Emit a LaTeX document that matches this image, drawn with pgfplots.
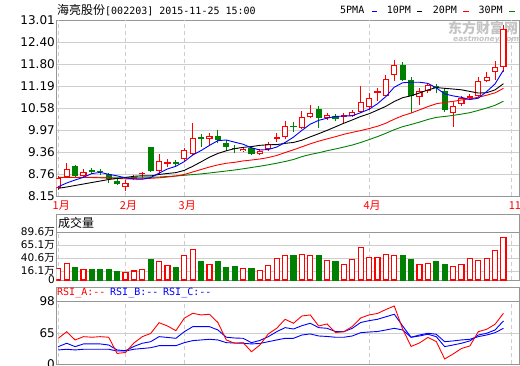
\documentclass[border=0pt]{standalone}
\usepackage{fontspec}
\setmainfont{DejaVu Sans}
\newfontfamily\cjk{Noto Sans CJK SC}
\newfontfamily\mono{DejaVu Sans Mono}
\usepackage{pgfplots}
\pgfplotsset{compat=1.18}
\usepackage{pgfplotstable}
\definecolor{kred}{RGB}{255,0,0}
\definecolor{kgreen}{RGB}{0,128,0}
\definecolor{kblue}{RGB}{0,0,255}
\definecolor{bord}{RGB}{150,150,150}
\definecolor{gridc}{RGB}{206,206,206}
\definecolor{wm}{RGB}{196,196,196}

% rising candles (red, hollow): open, high, low, close
\pgfplotstableread{
i O H L C
0 8.380 8.704 8.316 8.640
1 8.668 9.072 8.648 8.889
3 8.712 8.889 8.684 8.806
8 8.408 8.593 8.288 8.518
9 8.621 8.723 8.593 8.668
10 8.751 8.815 8.612 8.779
12 8.851 9.313 8.759 9.111
13 9.044 9.166 8.961 9.091
15 9.183 9.487 9.127 9.424
16 9.313 10.163 9.299 9.748
18 9.720 9.886 9.562 9.803
22 9.396 9.515 9.377 9.460
24 9.305 9.443 9.277 9.396
25 9.451 9.637 9.396 9.582
26 9.737 9.886 9.654 9.784
27 9.792 10.227 9.720 10.088
29 10.033 10.504 9.997 10.329
30 10.346 10.670 10.302 10.440
32 10.318 10.440 10.254 10.385
34 10.346 10.440 10.163 10.385
35 10.374 10.531 10.338 10.484
36 10.484 11.196 10.440 10.745
37 10.606 10.994 10.531 10.855
38 11.010 11.132 10.789 11.057
39 10.927 11.500 10.919 11.381
40 11.500 11.916 11.343 11.777
43 10.900 11.132 10.670 11.057
44 11.066 11.287 10.994 11.224
47 10.440 10.761 10.069 10.650
48 10.697 10.919 10.642 10.855
49 10.864 10.974 10.808 10.919
50 10.919 11.453 10.891 11.334
51 11.343 11.597 11.307 11.453
52 11.592 11.888 11.362 11.714
53 11.730 12.885 11.592 12.766
}\upc

% falling candles (green, filled): open, high, low, close
\pgfplotstableread{
i O H L C
2 8.981 9.017 8.684 8.704
4 8.870 8.917 8.751 8.815
5 8.842 8.906 8.723 8.806
6 8.751 8.779 8.502 8.621
7 8.574 8.629 8.446 8.491
11 9.507 9.515 8.823 8.842
14 9.091 9.147 8.961 9.044
17 9.764 9.858 9.515 9.737
19 9.811 9.969 9.609 9.701
20 9.626 9.701 9.404 9.515
21 9.460 9.562 9.332 9.443
23 9.471 9.515 9.285 9.305
28 10.088 10.199 9.930 10.052
31 10.551 10.642 10.025 10.318
33 10.374 10.421 10.235 10.290
41 11.777 11.860 11.343 11.362
42 11.362 11.453 10.457 10.927
45 11.177 11.243 11.010 11.149
46 11.066 11.132 10.484 10.531
}\dnc

\pgfplotstableread{
i ma5 ma10 ma20 ma30
0 8.408 8.363 8.662 8.668
1 8.510 8.399 8.662 8.668
2 8.593 8.441 8.662 8.668
3 8.668 8.482 8.662 8.668
4 8.771 8.524 8.662 8.668
5 8.804 8.565 8.654 8.668
6 8.750 8.607 8.648 8.668
7 8.708 8.635 8.635 8.668
8 8.650 8.662 8.626 8.668
9 8.621 8.696 8.621 8.668
10 8.615 8.710 8.626 8.668
11 8.660 8.705 8.640 8.668
12 8.784 8.746 8.654 8.676
13 8.898 8.774 8.676 8.690
14 8.973 8.797 8.704 8.704
15 9.102 8.859 8.745 8.723
16 9.284 8.972 8.815 8.743
17 9.409 9.096 8.884 8.762
18 9.551 9.225 8.953 8.787
19 9.683 9.328 9.012 8.815
20 9.701 9.402 9.056 8.842
21 9.640 9.462 9.083 8.870
22 9.584 9.497 9.121 8.903
23 9.485 9.518 9.146 8.939
24 9.424 9.553 9.175 8.975
25 9.437 9.569 9.214 9.014
26 9.505 9.573 9.272 9.058
27 9.631 9.608 9.352 9.105
28 9.780 9.633 9.429 9.161
29 9.967 9.695 9.512 9.240
30 10.139 9.788 9.595 9.300
31 10.245 9.875 9.669 9.347
32 10.305 9.968 9.732 9.403
33 10.352 10.066 9.792 9.453
34 10.364 10.165 9.859 9.505
35 10.372 10.256 9.912 9.561
36 10.458 10.352 9.962 9.632
37 10.552 10.428 10.018 9.711
38 10.705 10.529 10.081 9.795
39 10.904 10.634 10.165 9.886
40 11.163 10.768 10.278 9.986
41 11.286 10.872 10.374 10.070
42 11.301 10.926 10.447 10.130
43 11.301 11.003 10.535 10.196
44 11.269 11.087 10.626 10.269
45 11.144 11.153 10.704 10.326
46 10.978 11.132 10.742 10.352
47 10.922 11.112 10.770 10.382
48 10.882 11.091 10.810 10.418
49 10.821 11.045 10.840 10.458
50 10.858 11.001 10.884 10.519
51 11.042 11.010 10.941 10.586
52 11.255 11.089 11.007 10.661
53 11.637 11.260 11.131 10.776
}\ma

\pgfplotstableread{
i a b c
0 59.5 50.9 47.5
1 66.3 54.4 48.2
2 57.8 50.9 47.5
3 61.2 53.7 48.2
4 60.6 53.7 48.2
5 61.2 53.7 48.2
6 60.6 52.6 48.2
7 43.9 47.5 46.4
8 44.9 46.7 46.4
9 54.7 51.1 48.2
10 61.2 54.4 49.0
11 64.5 56.0 49.8
12 75.6 61.2 51.9
13 72.2 60.4 51.9
14 67.4 59.5 51.9
15 80.2 66.3 55.0
16 85.3 71.5 57.1
17 83.6 71.5 57.8
18 84.3 71.5 58.5
19 75.8 68.1 57.8
20 57.8 60.6 55.0
21 54.4 59.8 54.7
22 55.0 59.5 54.4
23 45.7 55.0 53.7
24 52.6 57.3 54.2
25 64.0 61.2 56.0
26 69.8 66.3 57.8
27 79.1 70.5 59.5
28 75.0 69.1 59.5
29 82.5 72.5 62.9
30 83.6 75.0 64.0
31 72.2 70.5 61.9
32 74.3 69.8 61.4
33 65.5 66.5 60.6
34 66.3 66.3 60.6
35 71.7 69.8 61.9
36 80.5 75.8 65.3
37 83.6 77.7 66.0
38 85.1 79.1 66.5
39 89.2 81.7 68.1
40 92.8 84.3 69.8
41 69.1 72.2 68.1
42 51.1 60.6 60.6
43 54.7 61.9 62.9
44 60.4 63.7 64.7
45 56.2 61.2 63.7
46 38.2 50.9 56.0
47 43.3 52.6 56.8
48 49.0 54.4 57.8
49 51.6 56.8 58.5
50 66.3 62.9 61.2
51 68.8 64.7 62.9
52 74.0 68.1 65.3
53 85.3 77.4 69.8
}\rsi

\pgfplotsset{
  panel/.style={scale only axis, width=462.5pt, xmin=-0.214, xmax=54.85,
    axis line style={draw=bord, line width=0.9pt}, major tick length=0pt,
    tick style={draw=none},
    ymajorgrids, major grid style={draw=gridc, line width=0.8pt},
    yticklabel style={anchor=east, inner sep=0pt, xshift=-1.5pt,
      font=\fontsize{12}{12}\selectfont}},
  candle/.style 2 args={draw=none, mark=none, mark size=0pt,
    mark options={draw=none, fill=none}, forget plot,
    error bars/.cd, y dir=plus, y explicit, error mark=none,
    error bar style={draw=#1, solid, line width=#2, line cap=butt}},
}
\tikzset{vgrid/.style={draw=gridc, line width=0.8pt, dash pattern=on 4pt off 3pt}}

\begin{document}
\begin{tikzpicture}[x=1pt,y=1pt]
\useasboundingbox (0,0) rectangle (520,365);

% watermark
\node[anchor=west, inner sep=0pt, text=wm] at (448,336.5) {\cjk\bfseries\fontsize{14}{14}\selectfont 东方财富网};
\node[anchor=west, inner sep=0pt, text=wm] at (453,325.5) {\bfseries\itshape\fontsize{7.5}{7.5}\selectfont eastmoney.com};

% title and legend
\node[anchor=west, inner sep=0pt] at (57,355) {\cjk\fontsize{12}{12}\selectfont 海亮股份\mono\fontsize{10}{10}\selectfont [002203] 2015-11-25 15:00};
\node[anchor=west, inner sep=0pt] at (340,355) {\mono\fontsize{10}{10}\selectfont 5PMA};
\fill[kblue] (371.5,352.7) rectangle (377,354.3);
\node[anchor=west, inner sep=0pt] at (386.7,355) {\mono\fontsize{10}{10}\selectfont 10PM};
\fill[black] (416.7,352.7) rectangle (422,354.3);
\node[anchor=west, inner sep=0pt] at (432.7,355) {\mono\fontsize{10}{10}\selectfont 20PM};
\fill[kred] (463,352.7) rectangle (468.5,354.3);
\node[anchor=west, inner sep=0pt] at (478.3,355) {\mono\fontsize{10}{10}\selectfont 30PM};
\fill[kgreen] (509,352.7) rectangle (514.5,354.3);

% ---------------- main price panel
\begin{axis}[panel, at={(56.5pt,169pt)}, anchor=south west, height=175.5pt,
  ymin=8.15, ymax=13.01,
  ytick={8.15,8.76,9.36,9.97,10.58,11.19,11.80,12.40,13.01},
  yticklabels={8.15,8.76,9.36,9.97,10.58,11.19,11.80,12.40,13.01},
  xtick={0,8,15,37,54}, xticklabels={1月,2月,3月,4月,11},
  xticklabel style={anchor=center, inner sep=0pt, yshift=-9.5pt, xshift=3pt,
    text=kred, font=\cjk\fontsize{11}{11}\selectfont}]
\pgfplotsinvokeforeach{0,8,15,37,54}{\draw[vgrid] (axis cs:#1,8.15) -- (axis cs:#1,13.01);}
% wicks
\addplot[candle={kred}{1.1pt}] table[x=i, y=L, y error plus expr=\thisrow{H}-\thisrow{L}] {\upc};
\addplot[candle={kgreen}{1.1pt}] table[x=i, y=L, y error plus expr=\thisrow{H}-\thisrow{L}] {\dnc};
% bodies
\addplot[candle={kred}{6.2pt}] table[x=i, y=O, y error plus expr={max(\thisrow{C}-\thisrow{O},0.035)}] {\upc};
\addplot[candle={white}{4.0pt}] table[x=i, y expr=\thisrow{O}+0.0305, y error plus expr={max(\thisrow{C}-\thisrow{O}-0.061,0)}] {\upc};
\addplot[candle={kgreen}{6.2pt}] table[x=i, y=C, y error plus expr={max(\thisrow{O}-\thisrow{C},0.035)}] {\dnc};
% moving averages
\addplot[kgreen, line width=0.9pt] table[x=i, y=ma30] {\ma};
\addplot[kred, line width=0.9pt] table[x=i, y=ma20] {\ma};
\addplot[black, line width=0.9pt] table[x=i, y=ma10] {\ma};
\addplot[kblue, line width=0.9pt] table[x=i, y=ma5] {\ma};
\end{axis}

% ---------------- volume panel
\node[anchor=west, inner sep=0pt] at (58,142) {\cjk\fontsize{12}{12}\selectfont 成交量};
\begin{axis}[panel, at={(56.5pt,85pt)}, anchor=south west, height=66pt,
  ymin=0, ymax=123.2, xtick=\empty,
  ytick={0,16.1,40.6,65.1,89.6},
  yticklabels={\raisebox{-1.5pt}{0},\raisebox{1.5pt}{16.1{\cjk 万}},40.6{\cjk 万},65.1{\cjk 万},89.6{\cjk 万}},
  yticklabel style={font=\fontsize{10.5}{10.5}\selectfont}]
\pgfplotsinvokeforeach{0,8,15,37,54}{\draw[vgrid] (axis cs:#1,0) -- (axis cs:#1,89.6);}
\draw[bord, line width=0.9pt] (axis cs:-0.214,89.6) -- (axis cs:54.85,89.6);
\addplot[ybar, bar width=0.6, bar shift=0pt, draw=kred, fill=white, line width=1.1pt] coordinates {
(0,21.8) (1,31.1) (3,19.9) (8,14.3) (9,16.8) (10,19.9) (12,34.8) (13,27.4)
(15,46.0) (16,57.2) (18,29.2) (22,21.8) (24,18.1) (25,27.4) (26,40.5) (27,46.0)
(29,48.0) (30,46.0) (32,36.7) (34,29.2) (35,38.6) (36,61.0) (37,42.3) (38,42.3)
(39,48.0) (40,46.0) (43,29.2) (44,31.1) (47,25.5) (48,29.2) (49,40.5) (50,36.7)
(51,40.5) (52,55.4) (53,79.7)};
\addplot[ybar, bar width=0.6, bar shift=0pt, draw=kgreen, fill=kgreen, line width=1.1pt] coordinates {
(2,23.6) (4,19.9) (5,18.7) (6,19.9) (7,14.9) (11,38.6) (14,23.6) (17,33.6)
(19,33.6) (20,23.6) (21,25.5) (23,21.8) (28,46.0) (31,44.8) (33,33.6) (41,44.8)
(42,37.3) (45,33.6) (46,29.2)};
\end{axis}

% ---------------- RSI panel
\begin{axis}[panel, at={(56.5pt,1pt)}, anchor=south west, height=77pt,
  ymin=33, ymax=112.4, xtick=\empty,
  ytick={33,65,98}, yticklabels={0,65,98}]
\pgfplotsinvokeforeach{0,8,15,37,54}{\draw[vgrid] (axis cs:#1,33) -- (axis cs:#1,98);}
\draw[bord, line width=0.9pt] (axis cs:-0.214,98) -- (axis cs:54.85,98);
\addplot[kblue, line width=0.9pt] table[x=i, y=c] {\rsi};
\addplot[kblue, line width=0.9pt] table[x=i, y=b] {\rsi};
\addplot[kred, line width=0.9pt] table[x=i, y=a] {\rsi};
\end{axis}
\node[anchor=west, inner sep=0pt, text=kred] at (57,72.3) {\mono\fontsize{10}{10}\selectfont RSI\_A:--};
\node[anchor=west, inner sep=0pt, text=kblue] at (110,72.3) {\mono\fontsize{10}{10}\selectfont RSI\_B:--};
\node[anchor=west, inner sep=0pt, text=kblue] at (163,72.3) {\mono\fontsize{10}{10}\selectfont RSI\_C:--};
\end{tikzpicture}
\end{document}
